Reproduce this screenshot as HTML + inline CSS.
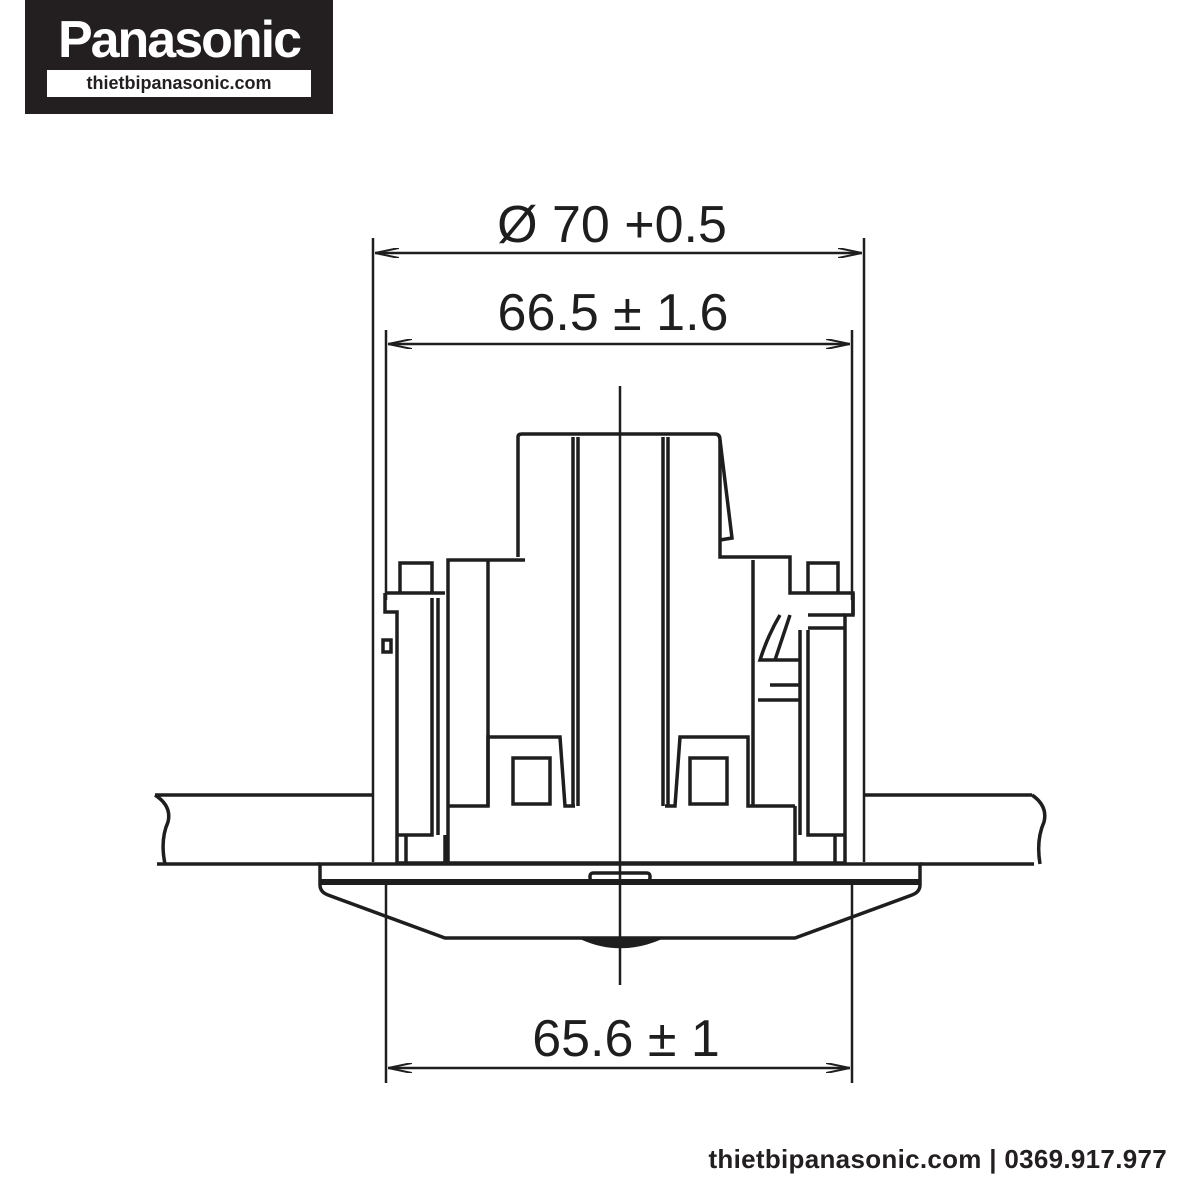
<!DOCTYPE html>
<html><head><style>
body{margin:0;background:#fff;width:1200px;height:1199px;overflow:hidden;position:relative;font-family:"Liberation Sans",sans-serif}
.logo{position:absolute;left:25px;top:0;width:308px;height:114px;background:#231f20}
.logo .t{position:absolute;left:0;width:308px;top:10px;text-align:center;color:#fff;font-weight:bold;font-size:52px;letter-spacing:-2px}
.logo .w{position:absolute;left:22px;top:70px;width:264px;height:27px;background:#fff;text-align:center;font-weight:bold;font-size:18px;line-height:27px;color:#231f20}
.foot{position:absolute;right:33px;top:1144px;font-size:26px;font-weight:bold;color:#231f20;letter-spacing:0.3px}
</style></head><body>
<div class="logo"><div class="t">Panasonic</div><div class="w">thietbipanasonic.com</div></div>
<svg width="1200" height="1199" style="position:absolute;left:0;top:0" fill="none" stroke="#1e1e1e" stroke-width="2.5">
<defs><marker id="a" markerWidth="24" markerHeight="10" refX="24" refY="5" orient="auto-start-reverse" markerUnits="userSpaceOnUse"><path d="M0,0 L24,5 L0,10" fill="none" stroke="#1e1e1e" stroke-width="2"/></marker></defs>
<line x1="373" y1="238" x2="373" y2="862"/>
<line x1="864" y1="238" x2="864" y2="862"/>
<line x1="386" y1="330" x2="386" y2="600"/>
<line x1="852" y1="330" x2="852" y2="600"/>
<line x1="386" y1="880" x2="386" y2="1083"/>
<line x1="852" y1="880" x2="852" y2="1083"/>
<line x1="375" y1="253" x2="862" y2="253" marker-start="url(#a)" marker-end="url(#a)"/>
<line x1="388" y1="344" x2="850" y2="344" marker-start="url(#a)" marker-end="url(#a)"/>
<line x1="388" y1="1068" x2="850" y2="1068" marker-start="url(#a)" marker-end="url(#a)"/>
<g fill="#1e1e1e" stroke="none" font-family="Liberation Sans, sans-serif" font-size="52" text-anchor="middle">
<text x="612" y="242">Ø 70 +0.5</text>
<text x="613" y="330">66.5 ± 1.6</text>
<text x="626" y="1056">65.6 ± 1</text>
</g>
<line x1="620" y1="386" x2="620" y2="985"/>
<g stroke-width="3.5">
<path d="M155,795 L373,795 M157,864 L320,864 M155,795 Q172,806 168,822 Q160,840 165,864"/>
<path d="M864,795 L1032,795 M920,864 L1034,864 M1032,795 Q1048,806 1044,822 Q1036,840 1040,864"/>
<path d="M320,864 L320,885 Q320,892 328,895 L445,938 L795,938 L912,895 Q920,892 920,885 L920,864 Z"/>
<line x1="320" y1="882" x2="920" y2="882" stroke-width="6"/>
<rect x="590" y="873" width="60" height="8" rx="3"/>
<path d="M582,938 Q620,955 660,938" fill="#1e1e1e"/>
<path d="M518,557 L518,437 Q518,434 522,434 L715,434 Q720,434 720,440 L720,557 L790,557 L790,593 L853,593 L853,615"/>
<path d="M720,440 L732,538 L720,540"/>
<line x1="573" y1="437" x2="573" y2="806"/><line x1="578" y1="437" x2="578" y2="806"/>
<line x1="663" y1="437" x2="663" y2="806"/><line x1="668" y1="437" x2="668" y2="806"/>
<path d="M525,560 L448,560 L448,863 M448,806 L488,806 L488,560"/>
<path d="M488,806 L488,737 L560,737 L565,806 L575,806 M665,806 L675,806 L680,737 L748,737 L748,806 L795,806"/>
<path d="M753,560 L753,806"/>
<rect x="513" y="758" width="37" height="46"/><rect x="690" y="758" width="37" height="46"/>
<line x1="448" y1="863" x2="795" y2="863"/>
<path d="M400,593 L400,563 L432,563 L432,593 M385,593 L445,593 M385,593 L385,612 L397,612 L397,835 L432,835 L432,598 M438,598 L438,835 M397,835 L397,863 M406,835 L406,863 M445,835 L445,863 M397,863 L448,863"/>
<rect x="383" y="640" width="8" height="12"/>
<path d="M808,593 L808,563 L838,563 L838,593 M853,593 L853,615 L845,615 L845,835 L808,835 L808,630 M800,630 L800,835 M845,835 L845,863 M835,835 L835,863 M795,806 L795,863 L845,863"/>
<path d="M780,615 Q768,635 760,660 L800,660 M790,615 L775,660 M770,685 L800,685 M758,700 L800,700"/>
<line x1="808" y1="615" x2="845" y2="615"/><line x1="808" y1="628" x2="845" y2="628"/>
</g>
</svg>
<div class="foot">thietbipanasonic.com | 0369.917.977</div>
</body></html>
